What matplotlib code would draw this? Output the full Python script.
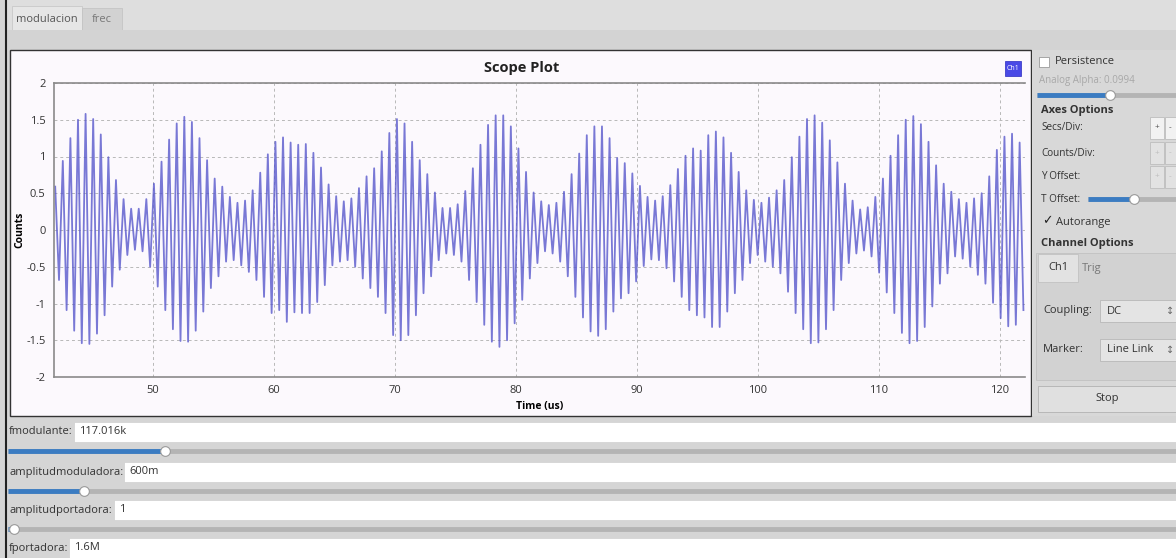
import matplotlib.pyplot as plt
from matplotlib.patches import Rectangle
from matplotlib.lines import Line2D

# --- values ---
# upper extreme of every carrier cycle (Counts), left to right
peaks = [0.59, 0.94, 1.25, 1.50, 1.58, 1.51, 1.30, 0.99, 0.68, 0.42, 0.29, 0.29, 0.42, 0.63, 0.93, 1.23,
         1.45, 1.54, 1.47, 1.25, 0.95, 0.70, 0.59, 0.45, 0.37, 0.40, 0.54, 0.78, 1.03, 1.20, 1.26, 1.19, 1.16,
         1.17, 1.05, 0.85, 0.62, 0.46, 0.39, 0.43, 0.57, 0.73, 0.84, 1.07, 1.32, 1.51, 1.45, 1.20, 0.95,
         0.76, 0.51, 0.30, 0.30, 0.35, 0.53, 0.84, 1.16, 1.43, 1.56, 1.56, 1.41, 1.11, 0.79, 0.51, 0.39,
         0.34, 0.37, 0.52, 0.76, 1.04, 1.29, 1.41, 1.41, 1.25, 0.98, 0.91, 0.77, 0.60, 0.45, 0.40, 0.46,
         0.61, 0.83, 1.01, 1.11, 1.08, 1.29, 1.34, 1.26, 1.05, 0.79, 0.54, 0.41, 0.37, 0.44, 0.54, 0.68,
         0.99, 1.27, 1.51, 1.56, 1.46, 1.22, 0.92, 0.63, 0.40, 0.28, 0.31, 0.45, 0.70, 1.01, 1.29, 1.50,
         1.55, 1.44, 1.20, 0.88, 0.63, 0.52, 0.42, 0.37, 0.43, 0.50, 0.73, 1.09, 1.27, 1.31, 1.19]
# lower extreme of every carrier cycle (Counts)
troughs = [-0.68, -1.09, -1.37, -1.54, -1.55, -1.41, -1.16, -0.77, -0.54, -0.34, -0.27, -0.29, -0.50, -0.77,
           -1.09, -1.35, -1.51, -1.52, -1.37, -1.11, -0.79, -0.63, -0.43, -0.41, -0.48, -0.57, -0.68, -0.91,
           -1.13, -1.09, -1.25, -1.12,
           -1.13, -1.13, -0.98, -0.75, -0.48, -0.43, -0.41, -0.50, -0.66, -0.79, -0.91, -1.13, -1.43, -1.50,
           -1.43, -1.16, -0.86, -0.63, -0.41, -0.32, -0.34, -0.43, -0.68, -0.98, -1.29, -1.52, -1.59, -1.50,
           -1.27, -0.95, -0.66, -0.45,
           -0.29, -0.32, -0.43, -0.63, -0.91, -1.19, -1.38, -1.44, -1.35, -1.11, -0.93, -0.86, -0.70, -0.49,
           -0.40, -0.41, -0.52, -0.70, -0.91, -1.09, -1.16, -1.19, -1.32, -1.32, -1.11, -0.86, -0.68, -0.45,
           -0.34, -0.43, -0.50, -0.59, -0.84,
           -1.13, -1.35, -1.54, -1.53, -1.35, -1.09, -0.68, -0.45, -0.32, -0.28, -0.36, -0.58, -0.85, -1.13,
           -1.40, -1.54, -1.51, -1.32, -1.04, -0.73, -0.59, -0.36, -0.39, -0.50, -0.61, -0.73, -0.99, -1.20,
           -1.31, -1.29, -1.09]
first_peak_us = 41.9
cycle_us = 0.628          # measured spacing of the peaks (fportadora 1.6M)
t_range = (41.8, 122.1)
x_ticks = [50, 60, 70, 80, 90, 100, 110, 120]
y_ticks = [-2, -1.5, -1, -0.5, 0, 0.5, 1, 1.5, 2]
y_tick_labels = ["-2", "-1.5", "-1", "-0.5", "0", "0.5", "1", "1.5", "2"]

# GUI widgets text
tabs = ["modulacion", "frec"]
params = [("fmodulante:", "117.016k"), ("amplitudmoduladora:", "600m"),
          ("amplitudportadora:", "1"), ("fportadora:", "1.6M")]

W, H = 1176, 558
plt.rcParams['font.family'] = ['Open Sans', 'DejaVu Sans']
fig = plt.figure(figsize=(W / 100, H / 100), dpi=100)
fig.patch.set_facecolor('#d5d5d5')


def rect(x0, y0, x1, y1, fc, ec='none', lw=0, z=1):
    fig.add_artist(Rectangle((x0 / W, 1 - y1 / H), (x1 - x0) / W, (y1 - y0) / H,
                             transform=fig.transFigure, fc=fc, ec=ec, lw=lw, zorder=z))


def txt(x, y, s, **kw):
    kw.setdefault('va', 'center')
    kw.setdefault('fontsize', 8)
    kw.setdefault('color', '#333333')
    fig.text(x / W, 1 - y / H, s, **kw)


def hline(x0, x1, y, color, lw, z=2):
    fig.add_artist(Line2D([x0 / W, x1 / W], [1 - y / H, 1 - y / H], transform=fig.transFigure,
                          color=color, lw=lw, solid_capstyle='butt', zorder=z))


def knob(x, y):
    fig.add_artist(Line2D([x / W], [1 - y / H], transform=fig.transFigure, marker='o', ms=7,
                          mfc='white', mec='#9a9a9a', mew=0.8, zorder=4))


def slider(x0, x1, xk, y):
    hline(x0, x1, y, '#b4b4b4', 3.5)
    hline(x0, xk, y, '#3b7cc2', 3.5, z=3)
    knob(xk, y)


# left window edge and tab bar
fig.add_artist(Line2D([6 / W, 6 / W], [0, 1], transform=fig.transFigure, color='#222222', lw=1.5))
rect(7, 0, W, 30, '#dedede')
rect(12, 6, 82, 30, '#e6e6e6', ec='#c8c8c8', lw=0.6)
rect(82, 8, 122, 30, '#d2d2d2', ec='#c4c4c4', lw=0.6)
txt(47, 19, tabs[0], ha='center', color='#555555')
txt(102, 20, tabs[1], ha='center', color='#777777')
rect(7, 30, W, 50, '#d3d3d3')

# scope panel
rect(10, 50, 1031, 416, '#fcf9fd', ec='#333333', lw=1.0)
ax = fig.add_axes([54 / W, 1 - 377 / H, (1025 - 54) / W, (377 - 83) / H])
ax.set_zorder(10)
ax.set_facecolor('#fcf9fd')

t = []
v = []
for k in range(len(peaks)):
    t += [first_peak_us + k * cycle_us, first_peak_us + (k + 0.5) * cycle_us]
    v += [peaks[k], troughs[k]]
ax.plot(t, v, color='#5858cc', lw=1.3, alpha=0.8)

ax.set_xlim(*t_range)
ax.set_ylim(-2, 2)
ax.set_xticks(x_ticks)
ax.set_yticks(y_ticks)
ax.set_yticklabels(y_tick_labels)
ax.tick_params(length=0, labelsize=8, labelcolor='#333333', pad=6)
ax.grid(True, ls=(0, (3, 3)), color='#b8b8b8', lw=0.7)
for s in ax.spines.values():
    s.set_color('#8a8a8a')
    s.set_linewidth(1.2)
ax.spines['right'].set_visible(False)
ax.set_xlabel("Time (us)", fontsize=7.5, fontweight='bold', labelpad=3)
ax.set_ylabel("Counts", fontsize=7.5, fontweight='bold', labelpad=1)
txt(522, 68, "Scope Plot", ha='center', fontsize=10.5, fontweight='bold', color='#222222')
rect(1005, 61, 1021, 76, '#4a4ae6', ec='#2a2ac0', lw=0.5, z=3)
txt(1013, 69, "Ch1", ha='center', fontsize=5, color='white', zorder=4)

# right control panel
rect(1032, 50, W, 416, '#d8d8d8')
rect(1039, 57, 1049, 67, 'white', ec='#9a9a9a', lw=0.6)
txt(1055, 62, "Persistence")
txt(1039, 80, "Analog Alpha: 0.0994", fontsize=7, color='#a8a8a8')
slider(1037, W, 1110, 95)
txt(1041, 110, "Axes Options", fontweight='bold')
txt(1041, 128, "Secs/Div:", fontsize=7.2)
txt(1041, 153, "Counts/Div:", fontsize=7.2)
txt(1041, 177, "Y Offset:", fontsize=7.2)
for yb, col in [(128, '#f2f2f2'), (153, '#e2e2e2'), (177, '#e2e2e2')]:
    rect(1150, yb - 11, 1164, yb + 11, col, ec='#bdbdbd', lw=0.6)
    rect(1165, yb - 11, W, yb + 11, col, ec='#bdbdbd', lw=0.6)
    c = '#444444' if yb == 128 else '#bbbbbb'
    txt(1157, yb, "+", ha='center', fontsize=6, color=c)
    txt(1170, yb, "-", ha='center', fontsize=6, color=c)
txt(1041, 199, "T Offset:", fontsize=7.2)
slider(1088, W, 1134, 199)
txt(1042, 221, "\u2713", fontsize=9, color='#222222', family=['DejaVu Sans'])
txt(1056, 222, "Autorange")
txt(1041, 243, "Channel Options", fontweight='bold')
rect(1036, 253, W, 380, '#d2d2d2', ec='#c2c2c2', lw=0.6)
rect(1038, 254, 1078, 282, '#e2e2e2', ec='#c2c2c2', lw=0.6)
txt(1058, 267, "Ch1", ha='center')
txt(1092, 268, "Trig", ha='center', color='#777777')
txt(1043, 311, "Coupling:")
rect(1100, 300, W, 322, '#e4e4e4', ec='#b8b8b8', lw=0.6)
txt(1107, 311, "DC")
txt(1170, 311, "\u2195", ha='center', fontsize=7, color='#666666', family=['DejaVu Sans'])
txt(1043, 350, "Marker:")
rect(1100, 339, W, 361, '#e4e4e4', ec='#b8b8b8', lw=0.6)
txt(1107, 350, "Line Link")
txt(1170, 350, "\u2195", ha='center', fontsize=7, color='#666666', family=['DejaVu Sans'])
rect(1038, 386, W, 412, '#e0e0e0', ec='#b2b2b2', lw=0.6)
txt(1107, 399, "Stop", ha='center')

# bottom parameter widgets
rows = [(432, 75, 165), (472, 125, 84), (510, 115, 14), (548, 70, None)]
for (lab, val), (yy, xf, xk) in zip(params, rows):
    rect(xf - 1, yy - 10, W, yy + 10, 'white', ec='#cfcfcf', lw=0.5)
    txt(9, yy, lab)
    txt(xf + 4, yy, val)
    if xk is not None:
        slider(8, W, xk, yy + 19)

fig.savefig("out.png", dpi=100, facecolor=fig.get_facecolor())
